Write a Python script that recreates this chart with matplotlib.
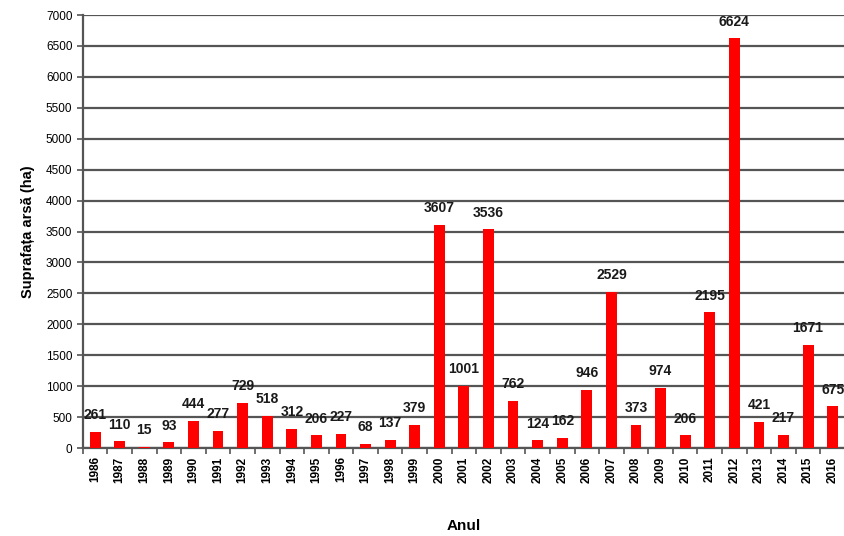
import matplotlib
matplotlib.use("Agg")
import matplotlib.pyplot as plt
import numpy as np

years = [str(y) for y in range(1986, 2017)]
values = [261, 110, 15, 93, 444, 277, 729, 518, 312, 206, 227, 68, 137, 379,
          3607, 1001, 3536, 762, 124, 162, 946, 2529, 373, 974, 206, 2195,
          6624, 421, 217, 1671, 675]
yticks = list(range(0, 7001, 500))

plt.rcParams['font.family'] = ['Liberation Sans', 'DejaVu Sans']
fig = plt.figure(figsize=(8.45, 5.36), dpi=100)
ax = fig.add_axes([0.098, 0.164, 0.902, 0.808])

x = np.arange(len(years))
ax.bar(x, values, width=0.44, color='#ff0000', zorder=3)
for xi, v in zip(x, values):
    ax.annotate(str(v), (xi, v), xytext=(0, 7), textcoords='offset points',
                ha='center', va='bottom', fontsize=10, fontweight='bold', color='#1a1a1a', zorder=4)

ax.set_xlim(-0.5, len(years) - 0.5)
ax.set_ylim(0, 7000)
ax.set_yticks(yticks)
ax.set_yticklabels([str(t) for t in yticks], fontsize=8.5)
ax.set_xticks(x)
ax.set_xticklabels(years, rotation=90, fontsize=8.5, fontweight='bold')
ax.set_xticks(np.arange(-0.5, len(years), 1), minor=True)
ax.tick_params(axis='x', which='major', length=0, pad=6)
ax.tick_params(axis='x', which='minor', length=4, color='#555555', width=1.2)
ax.tick_params(axis='y', length=4, color='#555555', width=1.2)

ax.grid(axis='y', color='#555555', linewidth=1.6, zorder=0)
for s in ['top', 'right']:
    ax.spines[s].set_visible(False)
ax.spines['left'].set_color('#555555')
ax.spines['left'].set_linewidth(1.6)
ax.spines['bottom'].set_color('#555555')
ax.spines['bottom'].set_linewidth(1.6)

ax.set_ylabel('Suprafața arsă (ha)', fontsize=10.5, fontweight='bold', labelpad=8)
ax.set_xlabel('Anul', fontsize=11, fontweight='bold', labelpad=26)

fig.savefig('out.png', dpi=100)
